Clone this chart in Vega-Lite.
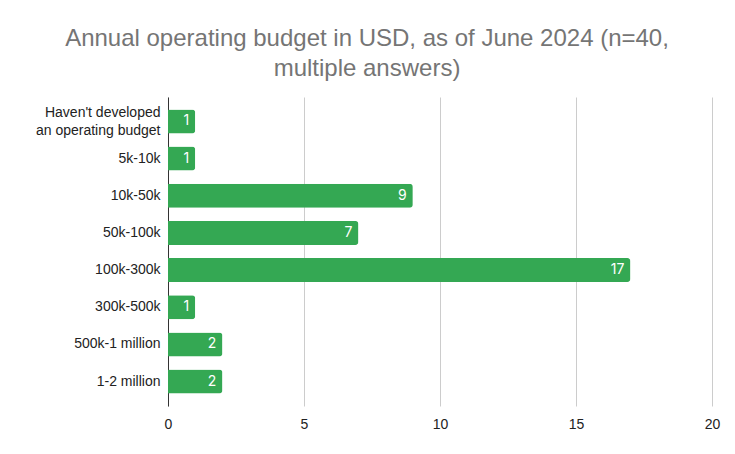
{
  "$schema": "https://vega.github.io/schema/vega-lite/v6.json",
  "autosize": {"type": "none"},
  "padding": {"left": 168, "top": 97, "right": 23, "bottom": 48},
  "width": 544,
  "height": 309,
  "background": "white",
  "title": {
    "text": ["Annual operating budget in USD, as of June 2024 (n=40,", "multiple answers)"],
    "font": "Liberation Sans",
    "fontSize": 24,
    "fontWeight": "normal",
    "color": "#757575",
    "anchor": "middle",
    "frame": "group",
    "dx": -73,
    "offset": 16,
    "lineHeight": 30
  },
  "data": {
    "values": [
      {"category": "Haven't developed|an operating budget", "count": 1},
      {"category": "5k-10k", "count": 1},
      {"category": "10k-50k", "count": 9},
      {"category": "50k-100k", "count": 7},
      {"category": "100k-300k", "count": 17},
      {"category": "300k-500k", "count": 1},
      {"category": "500k-1 million", "count": 2},
      {"category": "1-2 million", "count": 2}
    ]
  },
  "encoding": {
    "y": {
      "field": "category",
      "type": "nominal",
      "sort": null,
      "scale": {"paddingInner": 0.354, "paddingOuter": 0.335},
      "axis": {
        "title": null,
        "ticks": false,
        "domainColor": "#333333",
        "labelFont": "Liberation Sans",
        "labelFontSize": 14,
        "labelColor": "#222222",
        "labelPadding": 8,
        "labelLimit": 200,
        "labelExpr": "split(datum.label, '|')",
        "labelLineHeight": 18,
        "labelOffset": {"condition": {"test": "indexof(datum.value, '|') >= 0", "value": -8}, "value": 0}
      }
    },
    "x": {
      "field": "count",
      "type": "quantitative",
      "scale": {"domain": [0, 20]},
      "axis": {
        "title": null,
        "values": [0, 5, 10, 15, 20],
        "domain": false,
        "ticks": false,
        "gridColor": "#cccccc",
        "labelFlush": false,
        "labelFont": "Liberation Sans",
        "labelFontSize": 14,
        "labelColor": "#222222",
        "labelPadding": 11
      }
    }
  },
  "layer": [
    {
      "mark": {"type": "bar", "color": "#34a853", "cornerRadiusEnd": 3}
    },
    {
      "mark": {"type": "text", "align": "right", "dx": -6, "color": "white", "font": "Inter", "fontSize": 14, "baseline": "middle"},
      "encoding": {"text": {"field": "count", "type": "quantitative"}}
    }
  ],
  "config": {"view": {"stroke": null}}
}
